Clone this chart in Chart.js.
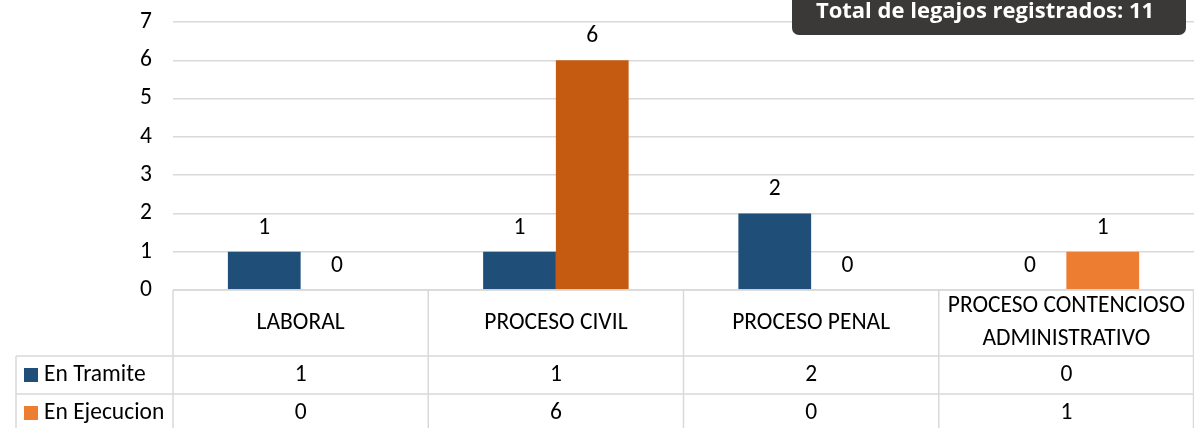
<!DOCTYPE html>
<html>
<head>
<meta charset="utf-8">
<script src="https://cdn.jsdelivr.net/npm/chart.js@4.4.1/dist/chart.umd.min.js"></script>
<style>
  html, body { margin: 0; padding: 0; background: #fff; }
  #wrap { width: 1194px; height: 428px; }
</style>
</head>
<body>
<div id="wrap"><canvas id="chart"></canvas></div>
<script>
const categories = [['LABORAL'], ['PROCESO CIVIL'], ['PROCESO PENAL'], ['PROCESO CONTENCIOSO', 'ADMINISTRATIVO']];
const seriesNames = ['En Tramite', 'En Ejecucion'];
const enTramite = [1, 1, 2, 0];
const enEjecucion = [0, 6, 0, 1];
const yMax = 7;
const titlePrefix = 'Total de legajos registrados: ';

const BLUE = '#1F4E79';
const ORANGE = '#ED7D31';
const DARK_ORANGE = '#C55A11';
const GRID = '#D9D9D9';
const FONT = 'Carlito, Calibri, Lato, sans-serif';
const FSIZE = 23.5;

const total = enTramite.concat(enEjecucion).reduce((a, b) => a + b, 0);

// value labels above each bar
const valueLabels = {
  id: 'valueLabels',
  afterDatasetsDraw(chart) {
    const ctx = chart.ctx;
    ctx.save();
    ctx.font = FSIZE + 'px ' + FONT;
    ctx.fillStyle = '#000';
    ctx.textAlign = 'center';
    ctx.textBaseline = 'middle';
    chart.data.datasets.forEach((ds, i) => {
      chart.getDatasetMeta(i).data.forEach((bar, j) => {
        ctx.fillText(String(ds.data[j]), bar.x, bar.y - 24);
      });
    });
    ctx.restore();
  }
};

// data table under the plot, laid out on the x scale
const dataTable = {
  id: 'dataTable',
  afterDraw(chart) {
    const ctx = chart.ctx;
    const xs = chart.scales.x;
    const area = chart.chartArea;
    const half = (xs.getPixelForValue(1) - xs.getPixelForValue(0)) / 2;
    const top = area.bottom;
    const headerH = 66, rowH = 38, legendLeft = 16;
    const bottom = top + headerH + rowH * 2;
    const rows = [enTramite, enEjecucion];
    const colors = [BLUE, ORANGE];

    ctx.save();
    ctx.strokeStyle = GRID;
    ctx.lineWidth = 1.5;
    ctx.beginPath();
    // horizontal lines
    ctx.moveTo(area.left, top); ctx.lineTo(area.right, top);
    for (let r = 0; r <= 2; r++) {
      const y = top + headerH + r * rowH;
      ctx.moveTo(legendLeft, y); ctx.lineTo(area.right, y);
    }
    // vertical lines
    ctx.moveTo(legendLeft, top + headerH); ctx.lineTo(legendLeft, bottom);
    categories.forEach((c, i) => {
      const xl = xs.getPixelForValue(i) - half;
      ctx.moveTo(xl, top); ctx.lineTo(xl, bottom);
    });
    ctx.moveTo(area.right - 0.5, top); ctx.lineTo(area.right - 0.5, bottom);
    ctx.stroke();

    ctx.font = FSIZE + 'px ' + FONT;
    ctx.fillStyle = '#000';
    ctx.textAlign = 'center';
    ctx.textBaseline = 'middle';
    categories.forEach((lines, i) => {
      const cx = xs.getPixelForValue(i);
      const cy = top + headerH / 2;
      const lh = 33;
      lines.forEach((t, k) => {
        ctx.fillText(t, cx, cy + (k - (lines.length - 1) / 2) * lh);
      });
      rows.forEach((vals, r) => {
        ctx.fillText(String(vals[i]), cx, top + headerH + r * rowH + rowH / 2);
      });
    });

    ctx.textAlign = 'left';
    seriesNames.forEach((name, r) => {
      const cy = top + headerH + r * rowH + rowH / 2;
      ctx.fillStyle = colors[r];
      ctx.fillRect(legendLeft + 8, cy - 7, 14, 14);
      ctx.fillStyle = '#000';
      ctx.fillText(name, legendLeft + 28, cy);
    });
    ctx.restore();
  }
};

// dark title box in the top right corner
const titleBox = {
  id: 'titleBox',
  afterDraw(chart) {
    const ctx = chart.ctx;
    const x = 792, y = -12, w = 394, h = 47, r = 7;
    ctx.save();
    ctx.fillStyle = '#3B3838';
    ctx.beginPath();
    ctx.roundRect(x, y, w, h, r);
    ctx.fill();
    ctx.font = 'bold 22px "Open Sans", sans-serif';
    ctx.fillStyle = '#fff';
    ctx.textAlign = 'center';
    ctx.textBaseline = 'alphabetic';
    ctx.fillText(titlePrefix + total, 985, 18);
    ctx.restore();
  }
};

new Chart(document.getElementById('chart'), {
  type: 'bar',
  data: {
    labels: categories,
    datasets: [
      { label: seriesNames[0], data: enTramite, backgroundColor: BLUE },
      { label: seriesNames[1], data: enEjecucion,
        backgroundColor: enEjecucion.map((v, i) => i === 1 ? DARK_ORANGE : ORANGE) }
    ]
  },
  options: {
    responsive: true,
    maintainAspectRatio: false,
    animation: false,
    layout: { padding: { top: 22, right: 0, bottom: 138, left: 0 } },
    categoryPercentage: 0.57,
    barPercentage: 1,
    plugins: { legend: { display: false }, tooltip: { enabled: false } },
    scales: {
      x: { display: false },
      y: {
        min: 0, max: yMax,
        ticks: { stepSize: 1, padding: 21, color: '#000', font: { family: FONT, size: FSIZE } },
        grid: { color: GRID, lineWidth: 1.5, drawTicks: false },
        border: { display: false },
        afterFit(scale) {
          scale.width = 173;
          scale.paddingTop = 0;
          scale.paddingBottom = 0;
        }
      }
    }
  },
  plugins: [valueLabels, dataTable, titleBox]
});
</script>
</body>
</html>
